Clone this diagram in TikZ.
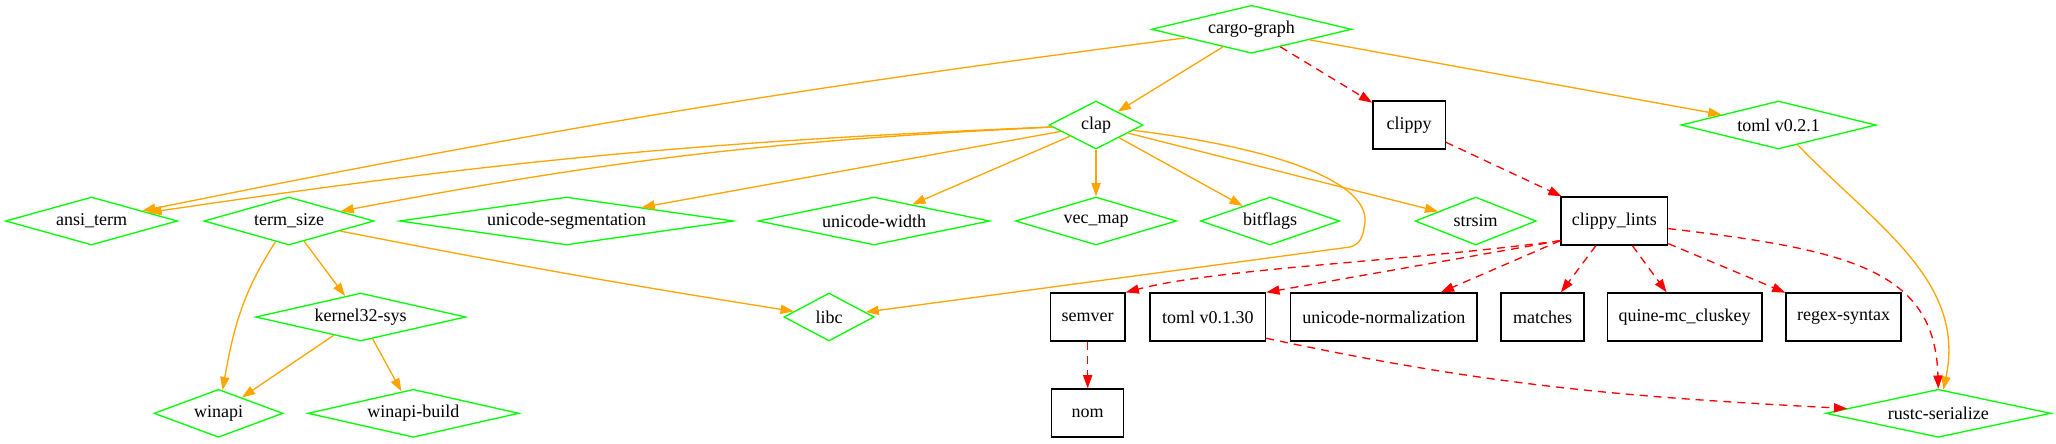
\documentclass[tikz,border=0pt]{standalone}
\usepackage{fontspec}
\setmainfont{Liberation Serif}
\usetikzlibrary{shapes.geometric,arrows.meta}
\definecolor{depgreen}{RGB}{0,255,0}
\definecolor{deporange}{RGB}{255,165,0}
\definecolor{devred}{RGB}{255,0,0}
\newcommand{\dlab}[1]{\makebox[0pt]{#1}}

\begin{document}
\begin{tikzpicture}[x=0.25pt,y=0.25pt,
  font=\fontsize{4.5}{5.5}\selectfont,
  dep/.style={diamond, draw=depgreen, line width=0.33pt, inner sep=0pt, minimum height=12pt, minimum width=0.25*#1},
  crate/.style={rectangle, draw=black, line width=0.33pt, inner sep=0pt, minimum height=12pt, minimum width=0.25*#1},
  depedge/.style={color=deporange, line width=0.33pt, -{Triangle[length=3.3pt,width=2.3pt]}},
  devedge/.style={color=devred, line width=0.33pt, dash pattern=on 2pt off 1.5pt, -{Triangle[length=3.3pt,width=2.3pt]}}]
\useasboundingbox (0,0) rectangle (2056,443);

% Diamond Nodes
\node[dep=200] (cargo) at (1251.5,413.7) {\dlab{cargo-graph}};
\node[dep=94] (clap) at (1096,318) {\dlab{clap}};
\node[dep=195] (tomlnew) at (1778.5,318) {\dlab{toml v0.2.1}};
\node[dep=172] (ansi) at (91.5,222) {\dlab{ansi\_term}};
\node[dep=170] (termsize) at (289,222) {\dlab{term\_size}};
\node[dep=334] (useg) at (566.5,222) {\dlab{unicode-segmentation}};
\node[dep=231.5] (uwidth) at (874,222) {\dlab{unicode-width}};
\node[dep=161] (vecmap) at (1096,222) {\dlab{vec\_map}};
\node[dep=139] (bitflags) at (1270,222) {\dlab{bitflags}};
\node[dep=121] (strsim) at (1475.7,222) {\dlab{strsim}};
\node[dep=210] (kernel) at (360.7,126) {\dlab{kernel32-sys}};
\node[dep=90] (libc) at (829,126) {\dlab{libc}};
\node[dep=129] (winapi) at (218.5,29.7) {\dlab{winapi}};
\node[dep=211] (winapib) at (413.4,29.7) {\dlab{winapi-build}};
\node[dep=225] (rustc) at (1938.3,29.7) {\dlab{rustc-serialize}};

% Box Nodes
\node[crate=72.3] (clippy) at (1409,318) {clippy};
\node[crate=106.6] (lints) at (1614.3,222) {clippy\_lints};
\node[crate=74.6] (semver) at (1087.7,126) {semver};
\node[crate=115.6] (tomlold) at (1207.8,126) {toml v0.1.30};
\node[crate=186.4] (unorm) at (1383.8,126) {unicode-normalization};
\node[crate=83] (matches) at (1542.5,126) {matches};
\node[crate=154.7] (quine) at (1684.7,126) {quine-mc\_cluskey};
\node[crate=115] (regex) at (1843.5,126) {regex-syntax};
\node[crate=72] (nom) at (1087.7,30) {nom};

% Solid Lines
\draw[depedge] (cargo) to[bend right=2] (ansi);
\draw[depedge] (cargo) -- (clap);
\draw[depedge] (cargo) -- (tomlnew);
\draw[depedge] (clap) to[bend right=3] (ansi);
\draw[depedge] (clap) to[bend right=4] (termsize);
\draw[depedge] (clap) -- (useg);
\draw[depedge] (clap) -- (uwidth);
\draw[depedge] (clap) -- (vecmap);
\draw[depedge] (clap) -- (bitflags);
\draw[depedge] (clap) -- (strsim);
\draw[depedge] (clap.-8) .. controls (1290,293) and (1368,258) .. (1365,221)
  .. controls (1363,205) and (1360,199) .. (1350,196) -- (libc);
\draw[depedge] (termsize) to[bend right=1] (libc);
\draw[depedge] (termsize) -- (kernel);
\draw[depedge] (termsize) to[out=237,in=80] (winapi);
\draw[depedge] (kernel) -- (winapi);
\draw[depedge] (kernel) -- (winapib);
\draw[depedge] (tomlnew) to[out=314,in=78] (rustc);

% Dashed Lines
\draw[devedge] (cargo) -- (clippy);
\draw[devedge] (clippy) -- (lints);
\draw[devedge] (lints.200) .. controls (1400,181) and (1220,175) .. (semver.north east);
\draw[devedge] (lints.200) -- (tomlold.north east);
\draw[devedge] (lints.200) -- (unorm);
\draw[devedge] (lints) -- (matches);
\draw[devedge] (lints) -- (quine);
\draw[devedge] (lints) -- (regex);
\draw[devedge] (lints.-8) .. controls (1850,193) and (1935,173) .. (rustc.north);
\draw[devedge] (semver) -- (nom);
\draw[devedge] (tomlold.-20) to[out=-12,in=177] (rustc);
\end{tikzpicture}
\end{document}
